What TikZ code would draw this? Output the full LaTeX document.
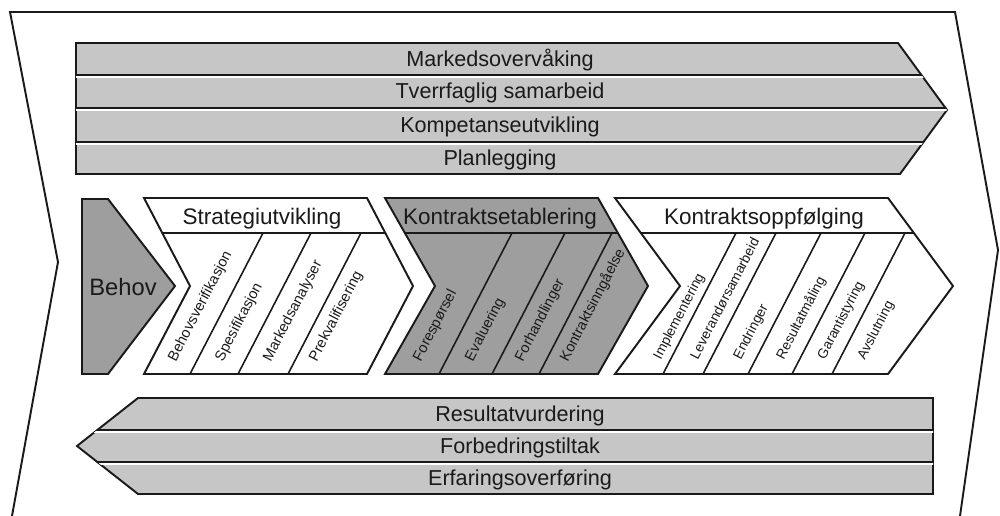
\documentclass[tikz,border=0pt]{standalone}
\usepackage{fontspec}
\setmainfont{Liberation Sans}
\begin{document}
\begin{tikzpicture}[
  x=0.02cm, y=-0.02cm,
  every node/.style={inner sep=0pt},
  outline/.style={draw=ink, line width=1.1pt, line join=miter},
  chevpath/.style n args={3}{insert path={(#1,198) -- (#2,198) -- ({#2+#3},286)
    -- (#2,374) -- (#1,374) -- ({#1+#3},286) -- cycle}},
  bandtext/.style={font=\fontsize{12.3}{14}\selectfont, text=ink, text height=8.8pt, text depth=0pt},
  headtext/.style={font=\fontsize{12.8}{15}\selectfont, text=ink, text height=9.2pt, text depth=0pt},
  steptext/.style={font=\fontsize{8.3}{10}\selectfont, text=ink, text height=5.9pt, text depth=0pt,
    rotate=62.5, anchor=west},
  divider/.style={draw=ink, line width=0.9pt},
]

\definecolor{ink}{HTML}{1A1A1A}
\definecolor{bandgray}{HTML}{C6C6C6}
\definecolor{stepdark}{HTML}{9E9E9E}

\useasboundingbox (0,0) rectangle (1000,516);

% outer frame
\draw[ink, line width=1.1pt] (12,516) -- (58,262) -- (10,12) -- (955,12) -- (998,250) -- (960,516);

% top band, pointing right
\path[outline, fill=bandgray] (76,43) -- (898,43) -- (947,110) -- (900,174) -- (76,174) -- cycle;
\begin{scope}
  \clip (76,43) -- (898,43) -- (947,110) -- (900,174) -- (76,174) -- cycle;
  \foreach \y in {75,108,142} {
    \draw[ink, line width=1pt] (76,\y) -- (960,\y);
    \draw[white, line width=0.7pt] (76,\y+2) -- (960,\y+2);
  }
\end{scope}
\foreach \txt/\y [count=\i] in {
  Markedsovervåking/59,
  Tverrfaglig samarbeid/91,
  Kompetanseutvikling/125,
  Planlegging/158%
}
  \node[bandtext] (top-\i) at (500,\y) {\txt};

% bottom band, pointing left
\path[outline, fill=bandgray] (933,398) -- (138,398) -- (77,446) -- (138,494) -- (933,494) -- cycle;
\begin{scope}
  \clip (933,398) -- (138,398) -- (77,446) -- (138,494) -- (933,494) -- cycle;
  \foreach \y in {430,462} {
    \draw[ink, line width=1pt] (60,\y) -- (940,\y);
    \draw[white, line width=0.7pt] (60,\y+2) -- (940,\y+2);
  }
\end{scope}
\foreach \txt/\y [count=\i] in {
  Resultatvurdering/414,
  Forbedringstiltak/446,
  Erfaringsoverføring/478%
}
  \node[bandtext] (bottom-\i) at (520,\y) {\txt};

% need
\path[outline, fill=stepdark] (82,199) -- (108,199) -- (175,286) -- (108,374) -- (82,374) -- cycle;
\node[headtext, font=\fontsize{13.5}{16}\selectfont] (behov) at (123,287) {Behov};

% strategy
\path[outline, fill=white, chevpath={144}{367}{46}];
\begin{scope}
  \clip[chevpath={144}{367}{46}];
  \draw[divider] (140,233) -- (420,233);
  \foreach \xb in {190,238,288}
    \draw[divider] (\xb,374) -- (\xb+73,233);
\end{scope}
\node[headtext] (strategi) at (262,216) {Strategiutvikling};
\foreach \txt/\xw [count=\i] in {
  Behovsverifikasjon/171,
  Spesifikasjon/218,
  Markedsanalyser/266,
  Prekvalifisering/312%
}
  \node[steptext] (strategi-\i) at (\xw,360) {\txt};

% contract establishment
\path[outline, fill=stepdark, chevpath={385}{598}{50}];
\begin{scope}
  \clip[chevpath={385}{598}{50}];
  \draw[divider] (380,233) -- (660,233);
  \foreach \xb in {439,492,539}
    \draw[divider] (\xb,374) -- (\xb+73,233);
\end{scope}
\node[headtext] (etablering) at (500,216) {Kontraktsetablering};
\foreach \txt/\xw [count=\i] in {
  Forespørsel/416,
  Evaluering/468,
  Forhandlinger/518,
  Kontraktsinngåelse/563%
}
  \node[steptext] (etablering-\i) at (\xw,360) {\txt};

% contract follow-up
\path[outline, fill=white, chevpath={615}{888}{65}];
\begin{scope}
  \clip[chevpath={615}{888}{65}];
  \draw[divider] (610,233) -- (960,233);
  \foreach \xb in {663,703,748,792,832}
    \draw[divider] (\xb,374) -- (\xb+73,233);
\end{scope}
\node[headtext] (oppfolging) at (764,216) {Kontraktsoppfølging};
\foreach \txt/\xw [count=\i] in {
  Implementering/656,
  Leverandørsamarbeid/693,
  Endringer/736,
  Resultatmåling/779,
  Garantistyring/820,
  Avslutning/860%
}
  \node[steptext, font=\fontsize{7.8}{9}\selectfont] (oppfolging-\i) at (\xw,358) {\txt};

\end{tikzpicture}
\end{document}
